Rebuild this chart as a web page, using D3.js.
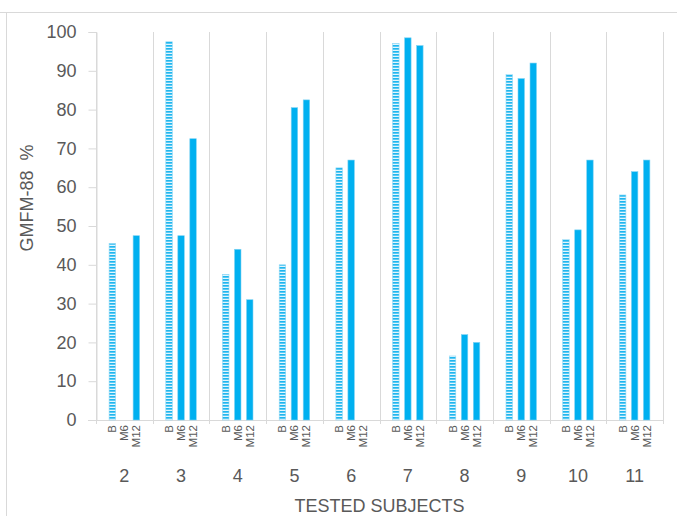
<!DOCTYPE html>
<html>
<head>
<meta charset="utf-8">
<script src="https://cdn.jsdelivr.net/npm/d3@7"></script>
<style>
  body { margin: 0; background: #fff; }
  svg { font-family: "Liberation Sans", Arial, sans-serif; }
  .tick-label { font-size: 18px; fill: #595959; }
  .series-label { font-size: 11.5px; fill: #595959; }
  .title { font-size: 18px; fill: #595959; white-space: pre; }
  .grid { stroke: #d9d9d9; stroke-width: 1; }
</style>
</head>
<body>
<svg id="chart" width="677" height="516"></svg>
<script>
// chart data
const subjects = ["2", "3", "4", "5", "6", "7", "8", "9", "10", "11"];
const series = ["B", "M6", "M12"];
const baseline = [45.5, 97.5, 37.5, 40, 65, 97, 16.5, 89, 46.5, 58];
const month6 = [null, 47.5, 44, 80.5, 67, 98.5, 22, 88, 49, 64];
const month12 = [47.5, 72.5, 31, 82.5, null, 96.5, 20, 92, 67, 67];
const yTicks = [0, 10, 20, 30, 40, 50, 60, 70, 80, 90, 100];

const values = [baseline, month6, month12];

const margin = {top: 32, right: 14, bottom: 96, left: 96};
const width = 677, height = 516;

const svg = d3.select("#chart");

// outer chart border (only top and left are visible in the frame)
svg.append("line").attr("class", "grid")
    .attr("x1", 0).attr("x2", width).attr("y1", 12.5).attr("y2", 12.5);
svg.append("line").attr("class", "grid")
    .attr("x1", 6.5).attr("x2", 6.5).attr("y1", 12.5).attr("y2", height);

// striped fill for the baseline series
const defs = svg.append("defs");
const pat = defs.append("pattern")
    .attr("id", "stripes")
    .attr("patternUnits", "userSpaceOnUse")
    .attr("width", 6).attr("height", 3);
pat.append("rect").attr("width", 6).attr("height", 3).attr("fill", "#e3f6fd");
pat.append("rect").attr("width", 6).attr("height", 1.7).attr("fill", "#1fb6ef");

const x0 = d3.scaleBand()
    .domain(subjects)
    .range([margin.left, width - margin.right])
    .padding(0);

const y = d3.scaleLinear()
    .domain([0, 100])
    .range([height - margin.bottom, margin.top]);

const groupW = 36;
const x1 = d3.scaleBand()
    .domain(series)
    .range([x0.bandwidth() / 2 - groupW / 2, x0.bandwidth() / 2 + groupW / 2])
    .paddingInner(0.46)
    .paddingOuter(0.23);

// vertical gridlines between subjects
const bounds = subjects.map(s => x0(s)).concat([x0.range()[1]]);
svg.append("g").selectAll("line")
    .data(bounds)
    .join("line")
    .attr("class", "grid")
    .attr("x1", d => Math.round(d) + 0.5).attr("x2", d => Math.round(d) + 0.5)
    .attr("y1", y(100)).attr("y2", y(0) + 4);

// y axis
const yAxis = svg.append("g")
    .attr("transform", `translate(${margin.left + 0.5},0)`)
    .call(d3.axisLeft(y).tickValues(yTicks).tickSize(8).tickPadding(12));
yAxis.select(".domain").attr("stroke", "#d9d9d9");
yAxis.selectAll(".tick line").attr("stroke", "#d9d9d9");
yAxis.selectAll(".tick text")
    .attr("class", "tick-label")
    .attr("font-family", null).attr("font-size", null)
    .attr("fill", null);

// x axis line
svg.append("line").attr("class", "grid")
    .attr("x1", margin.left - 8).attr("x2", x0.range()[1])
    .attr("y1", y(0) + 0.5).attr("y2", y(0) + 0.5);

// bars
const groups = svg.append("g").selectAll("g")
    .data(subjects)
    .join("g")
    .attr("transform", d => `translate(${x0(d)},0)`);

groups.selectAll("rect")
    .data((d, i) => series.map((s, k) => ({s: s, v: values[k][i]})).filter(e => e.v != null))
    .join("rect")
    .attr("x", d => x1(d.s))
    .attr("width", x1.bandwidth())
    .attr("y", d => y(d.v))
    .attr("height", d => y(0) - y(d.v))
    .attr("fill", d => d.s === "B" ? "url(#stripes)" : "#00b0f0")
    .attr("stroke", d => d.s === "B" ? "#8fd8f5" : "#7fd2f3")
    .attr("stroke-width", 0.6);

// series labels under each bar, rotated
groups.selectAll("text.series-label")
    .data(series)
    .join("text")
    .attr("class", "series-label")
    .attr("text-anchor", "end")
    .attr("transform", s => `translate(${x1(s) + x1.bandwidth() / 2 + 4},${y(0) + 5}) rotate(-90)`)
    .text(s => s);

// subject numbers
svg.append("g").selectAll("text")
    .data(subjects)
    .join("text")
    .attr("class", "tick-label")
    .attr("text-anchor", "middle")
    .attr("x", d => x0(d) + x0.bandwidth() / 2)
    .attr("y", 482)
    .text(d => d);

// axis titles
svg.append("text")
    .attr("class", "title")
    .attr("text-anchor", "middle")
    .attr("x", (margin.left + width - margin.right) / 2)
    .attr("y", 512)
    .text("TESTED SUBJECTS");

svg.append("text")
    .attr("class", "title")
    .attr("text-anchor", "middle")
    .attr("transform", "translate(33,198) rotate(-90)")
    .text("GMFM-88  %");
</script>
</body>
</html>
